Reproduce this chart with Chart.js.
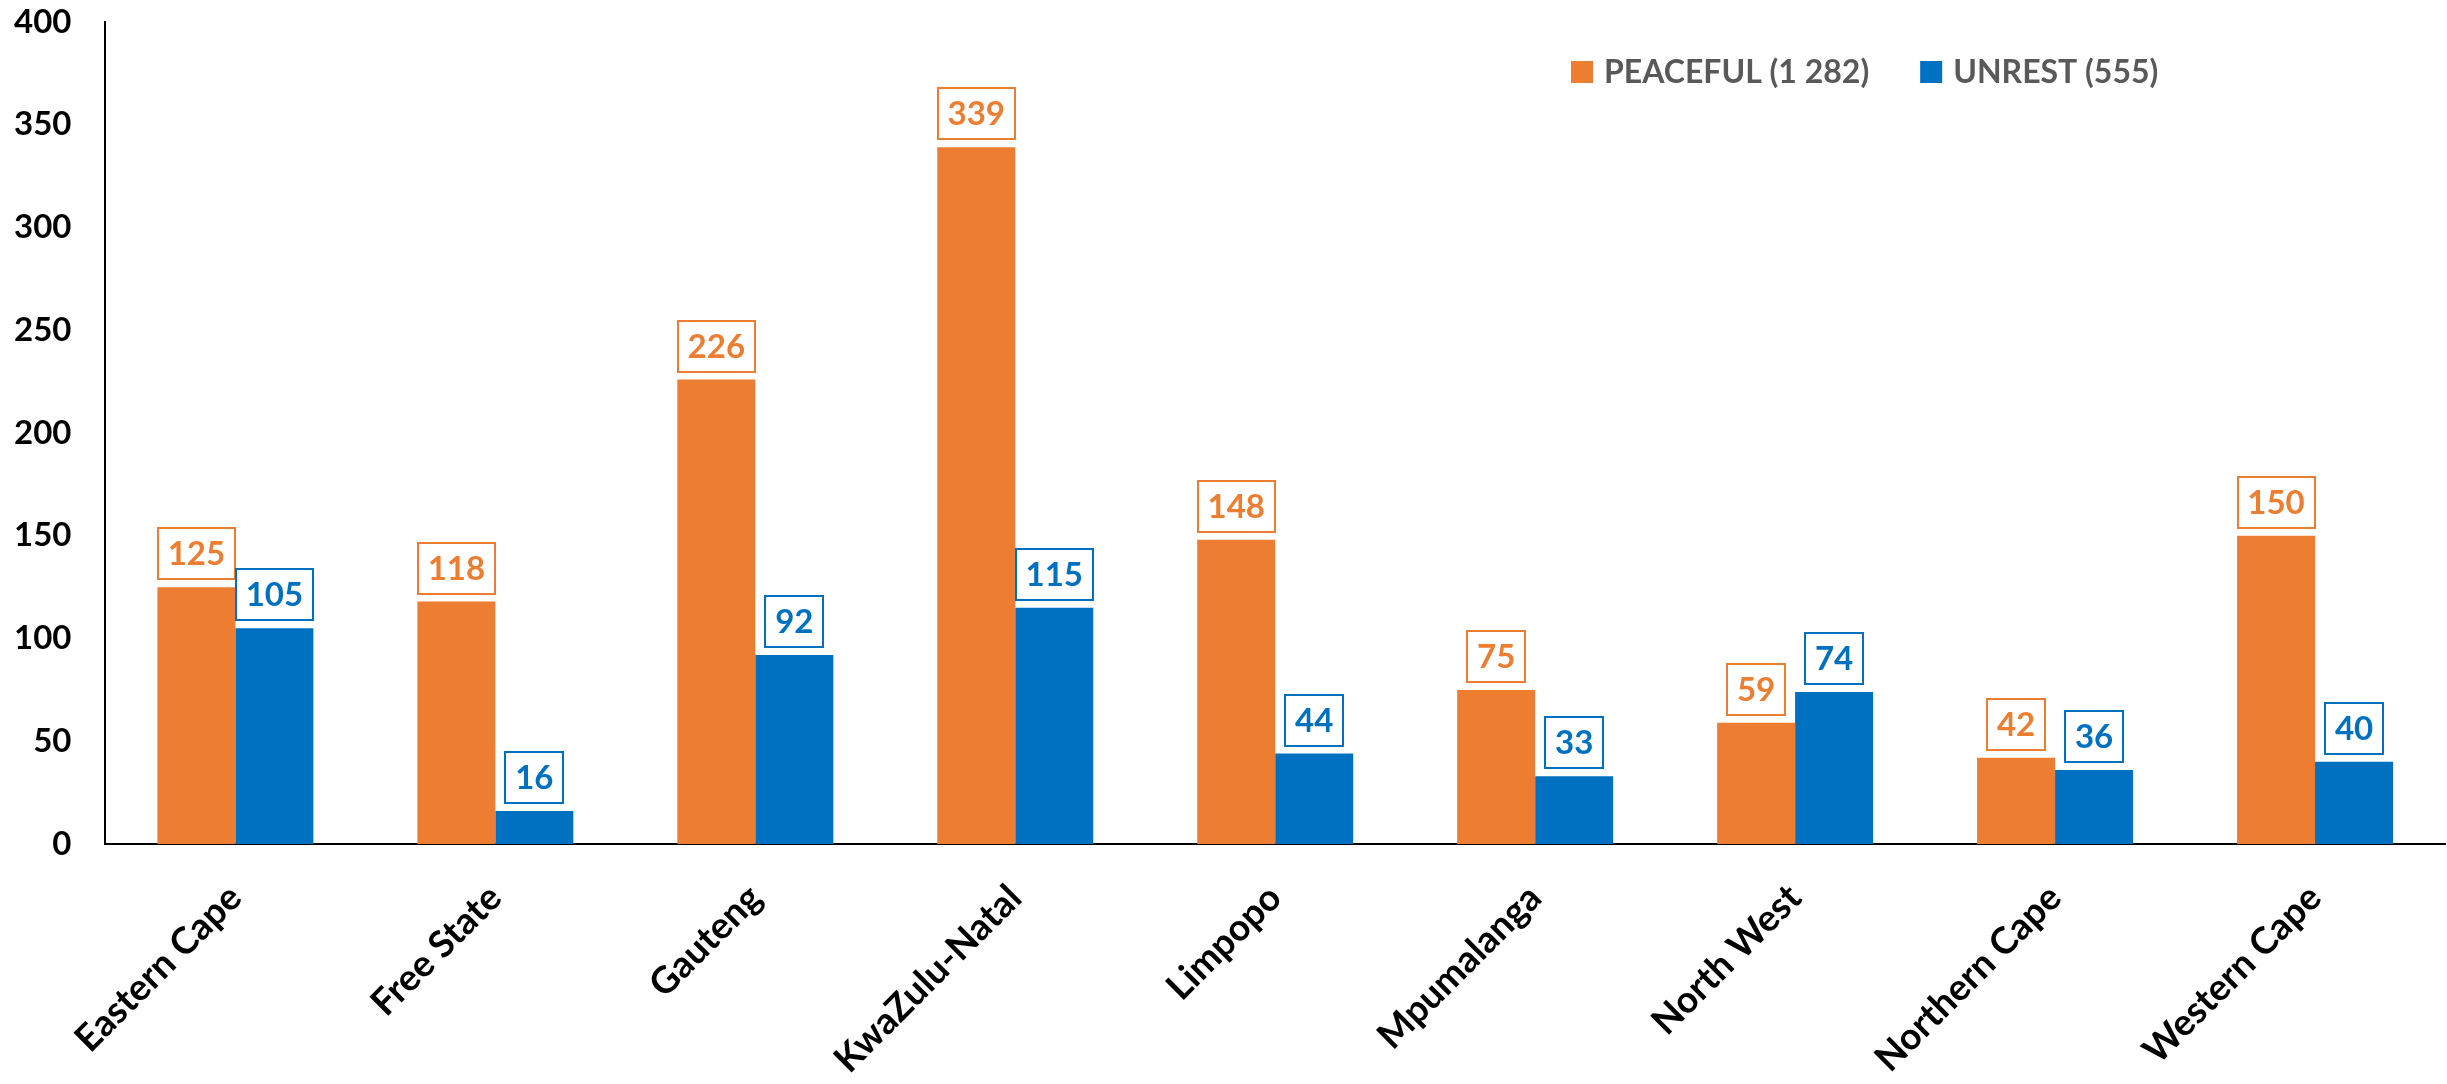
<!DOCTYPE html>
<html>
<head>
<meta charset="utf-8">
<script src="https://cdn.jsdelivr.net/npm/chart.js@4.4.1/dist/chart.umd.min.js"></script>
<style>
  html, body { margin: 0; padding: 0; background: #ffffff; }
  #wrap { width: 2447px; height: 1084px; }
</style>
</head>
<body>
<div id="wrap"><canvas id="chart" width="2447" height="1084"></canvas></div>
<script>
// Chart data
const provinces = ['Eastern Cape', 'Free State', 'Gauteng', 'KwaZulu-Natal', 'Limpopo',
  'Mpumalanga', 'North West', 'Northern Cape', 'Western Cape'];
const peaceful = [125, 118, 226, 339, 148, 75, 59, 42, 150];
const unrest = [105, 16, 92, 115, 44, 33, 74, 36, 40];
const seriesNames = ['PEACEFUL (1 282)', 'UNREST (555)'];
const yTicks = [0, 50, 100, 150, 200, 250, 300, 350, 400];

const colors = {
  orange: '#ED7D31',
  blue: '#0070C0',
  axis: '#000000',
  legendText: '#595959'
};
const fontFamily = "Lato, 'Open Sans', sans-serif";

// Boxed value labels above each bar
const boxLabels = {
  id: 'boxLabels',
  afterDatasetsDraw(chart) {
    const ctx = chart.ctx;
    ctx.save();
    ctx.font = 'bold 33px ' + fontFamily;
    ctx.textAlign = 'center';
    ctx.textBaseline = 'middle';
    chart.data.datasets.forEach(function(ds, i) {
      const meta = chart.getDatasetMeta(i);
      meta.data.forEach(function(bar, j) {
        const text = String(ds.data[j]);
        const w = Math.round(ctx.measureText(text).width + 20);
        const h = 51;
        const x = Math.round(bar.x - w / 2);
        const y = Math.round(bar.y - 8 - h);
        ctx.fillStyle = '#ffffff';
        ctx.fillRect(x, y, w, h);
        ctx.strokeStyle = ds.backgroundColor;
        ctx.lineWidth = 2;
        ctx.strokeRect(x, y, w, h);
        ctx.fillStyle = ds.backgroundColor;
        ctx.fillText(text, bar.x, y + h / 2 + 1);
      });
    });
    ctx.restore();
  }
};

// Legend drawn inside the plot, top right
const insideLegend = {
  id: 'insideLegend',
  afterDraw(chart) {
    const ctx = chart.ctx;
    ctx.save();
    ctx.font = 'bold 32px ' + fontFamily;
    ctx.textAlign = 'left';
    ctx.textBaseline = 'middle';
    let x = 1571;
    const cy = 72;
    chart.data.datasets.forEach(function(ds) {
      ctx.fillStyle = ds.backgroundColor;
      ctx.fillRect(x, cy - 11, 22, 22);
      ctx.fillStyle = colors.legendText;
      ctx.fillText(ds.label, x + 33, cy + 1);
      x += 33 + ctx.measureText(ds.label).width + 51;
    });
    ctx.restore();
  }
};

const ctx = document.getElementById('chart').getContext('2d');
new Chart(ctx, {
  type: 'bar',
  data: {
    labels: provinces,
    datasets: [
      { label: seriesNames[0], data: peaceful, backgroundColor: colors.orange, borderWidth: 0 },
      { label: seriesNames[1], data: unrest, backgroundColor: colors.blue, borderWidth: 0 }
    ]
  },
  options: {
    responsive: false,
    animation: false,
    layout: { padding: { top: 22, left: 14, right: 2, bottom: 0 } },
    datasets: { bar: { barPercentage: 1, categoryPercentage: 0.6 } },
    plugins: {
      legend: { display: false },
      tooltip: { enabled: false }
    },
    scales: {
      x: {
        grid: { display: false, drawTicks: false },
        border: { display: true, color: colors.axis, width: 2 },
        ticks: {
          color: colors.axis,
          font: { family: fontFamily, size: 37, weight: 'bold' },
          maxRotation: 45,
          minRotation: 45,
          padding: 32
        },
        afterFit: function(axis) {
          axis.height = 240;
          axis.paddingLeft = 0;
          axis.paddingRight = 0;
        }
      },
      y: {
        min: 0,
        max: 400,
        afterBuildTicks: function(axis) {
          axis.ticks = yTicks.map(function(v) { return { value: v }; });
        },
        grid: { display: false, drawTicks: false },
        border: { display: true, color: colors.axis, width: 2 },
        ticks: {
          color: colors.axis,
          font: { family: fontFamily, size: 33, weight: 'bold' },
          padding: 34
        },
        afterFit: function(axis) {
          // only keep the gap between the labels and the axis line
          axis.width -= axis.options.ticks.padding;
          axis.paddingTop = 0;
          axis.paddingBottom = 0;
        }
      }
    }
  },
  plugins: [boxLabels, insideLegend]
});
</script>
</body>
</html>
